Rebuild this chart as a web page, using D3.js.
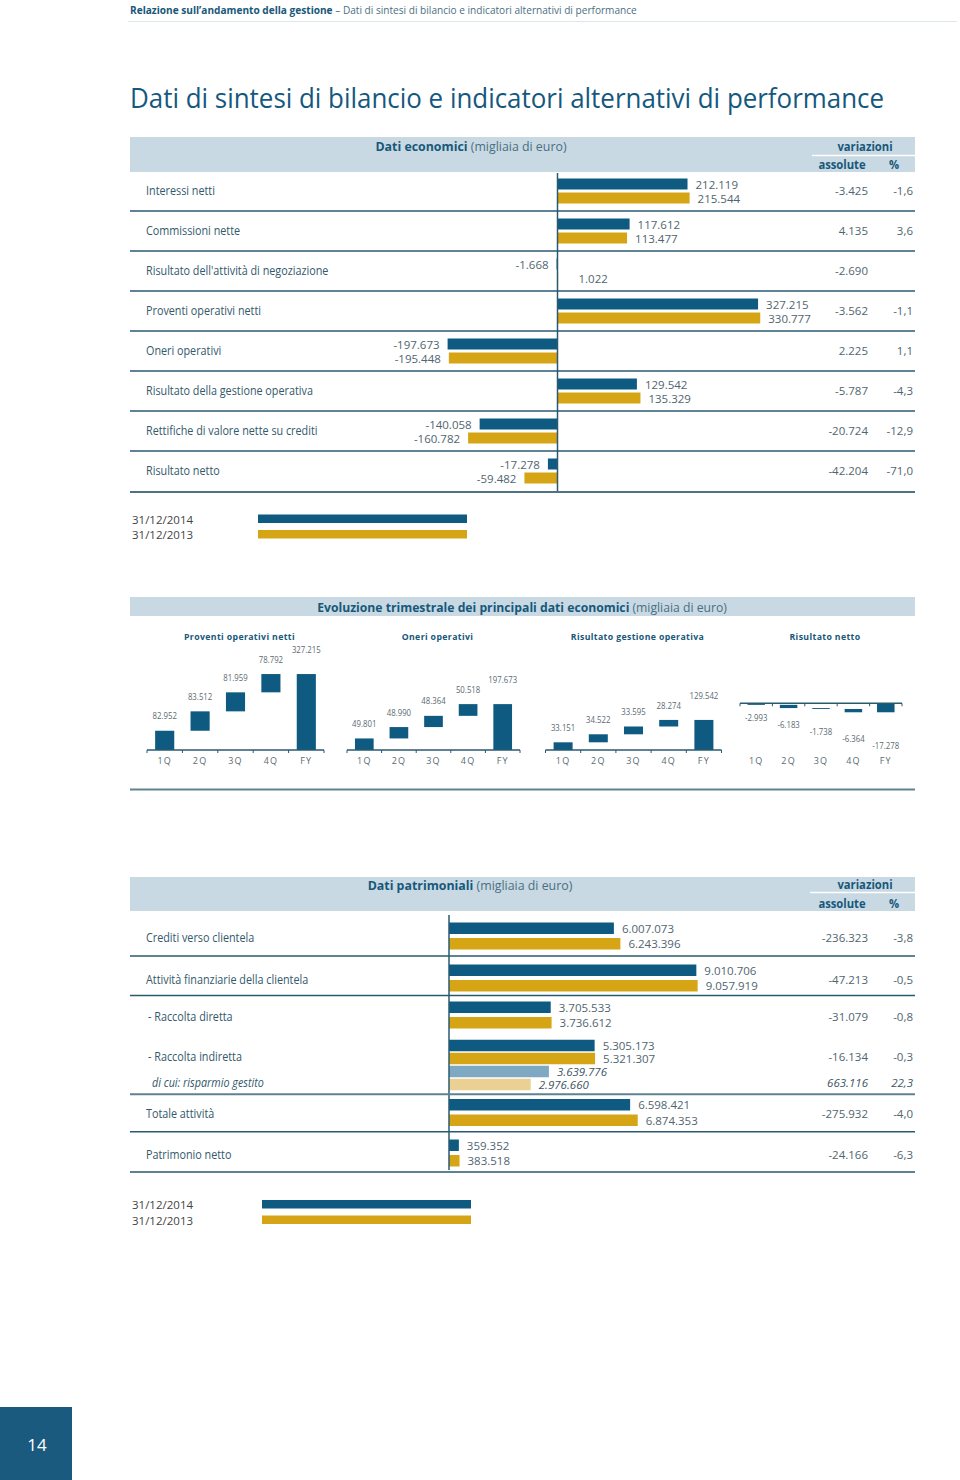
<!DOCTYPE html>
<html><head><meta charset="utf-8">
<script src="https://cdn.jsdelivr.net/npm/d3@7"></script>
<style>
html,body{margin:0;padding:0;background:#fff;}
svg{display:block;font-family:"Open Sans","Noto Sans","DejaVu Sans",sans-serif;}
</style></head><body>
<svg id="c" width="960" height="1480"></svg>
<script>
// ---------- DATA ----------
const ecoLabels = ["Interessi netti","Commissioni nette","Risultato dell'attività di negoziazione","Proventi operativi netti","Oneri operativi","Risultato della gestione operativa","Rettifiche di valore nette su crediti","Risultato netto"];
const eco2014 = [212119, 117612, -1668, 327215, -197673, 129542, -140058, -17278];
const eco2013 = [215544, 113477, 1022, 330777, -195448, 135329, -160782, -59482];
const ecoVarAbs = [-3425, 4135, -2690, -3562, 2225, -5787, -20724, -42204];
const ecoVarPct = [-1.6, 3.6, null, -1.1, 1.1, -4.3, -12.9, -71.0];

const quarters = ["1Q","2Q","3Q","4Q","FY"];
const chartTitles = ["Proventi operativi netti","Oneri operativi","Risultato gestione operativa","Risultato netto"];
const qProventi = [82952, 83512, 81959, 78792];
const qOneri = [49801, 48990, 48364, 50518];
const qGestione = [33151, 34522, 33595, 28274];
const qNetto = [-2993, -6183, -1738, -6364];
const fyValues = [327215, 197673, 129542, -17278];

const patLabels = ["Crediti verso clientela","Attività finanziarie della clientela","- Raccolta diretta","- Raccolta indiretta","di cui: risparmio gestito","Totale attività","Patrimonio netto"];
const pat2014 = [6007073, 9010706, 3705533, 5305173, 3639776, 6598421, 359352];
const pat2013 = [6243396, 9057919, 3736612, 5321307, 2976660, 6874353, 383518];
const patVarAbs = [-236323, -47213, -31079, -16134, 663116, -275932, -24166];
const patVarPct = [-3.8, -0.5, -0.8, -0.3, 22.3, -4.0, -6.3];

const legendLabels = ["31/12/2014","31/12/2013"];

// ---------- STYLE ----------
const C = {blue:"#0f5a80", gold:"#d5a515", lblue:"#7fa9c2", lgold:"#ead092", band:"#c8d9e3",
  line:"#2a5a70", lineGrey:"#6e8c9a", label:"#33596b", num:"#50656f", head:"#17587a"};
const it = d3.formatLocale({decimal:",", thousands:".", grouping:[3], currency:["€",""], minus:"-"});
const fInt = it.format(",d");
const fPct = it.format(",.1f");
const svg = d3.select("#c");
const LSX = 0.9; // horizontal text compression for row labels

function T(parent, x, y, parts, o = {}) {
  const t = parent.append("text")
    .attr("transform", `translate(${x},${y}) scale(${o.sx ?? 1},1)`)
    .attr("text-anchor", o.anchor || "start")
    .attr("dominant-baseline", "central")
    .style("font-size", (o.size || 12) + "px")
    .style("fill", o.fill || C.label)
    .style("font-weight", o.weight || 400)
    .style("letter-spacing", (o.ls || 0) + "px");
  if (o.italic) t.style("font-style", "italic");
  if (typeof parts === "string") t.text(parts);
  else parts.forEach(p => t.append("tspan").text(p.t).style("font-weight", p.w || 400).style("fill", p.f || null));
  return t;
}
function hline(x1, x2, y, col, w) {
  svg.append("line").attr("x1", x1).attr("x2", x2).attr("y1", y).attr("y2", y).attr("stroke", col).attr("stroke-width", w);
}

// ---------- PAGE HEADER ----------
T(svg, 130, 10, [{t:"Relazione sull’andamento della gestione", w:700, f:C.head},{t:" – Dati di sintesi di bilancio e indicatori alternativi di performance", f:"#4a6f82"}], {size:11, sx:0.92});
hline(128, 957, 21.5, "#dde6eb", 1);
T(svg, 130, 98, "Dati di sintesi di bilancio e indicatori alternativi di performance", {size:27, sx:0.96, fill:"#14587e"});

// ---------- TOP TABLE ----------
const gTop = svg.append("g");
gTop.append("rect").attr("x",130).attr("y",137).attr("width",785).attr("height",35).attr("fill",C.band);
T(gTop, 471, 146, [{t:"Dati economici", w:700, f:C.head},{t:" (migliaia di euro)", f:"#4a6f82"}], {size:12.5, sx:0.99, anchor:"middle"});
T(gTop, 865, 146, "variazioni", {size:12.5, sx:0.9, anchor:"middle", weight:700, fill:C.head});
hline(812, 915, 155.5, "#fff", 1.5);
T(gTop, 842, 164, "assolute", {size:12.5, sx:0.9, anchor:"middle", weight:700, fill:C.head});
T(gTop, 894, 164, "%", {size:12.5, sx:0.9, anchor:"middle", weight:700, fill:C.head});

const xEco = d3.scaleLinear().domain([-200000, 0, 340000]).range([446.3, 557.5, 765.9]);
const yEco = d3.scaleBand().domain(ecoLabels).range([171, 491]);
const barH = 11;
ecoLabels.forEach((lab, i) => {
  const c = yEco(lab) + yEco.bandwidth() / 2;
  T(gTop, 146, c - 1, lab, {size:12, sx:LSX});
  [[eco2014[i], C.blue, c - 12.5], [eco2013[i], C.gold, c + 1.5]].forEach(([v, col, y]) => {
    gTop.append("rect").attr("x", Math.min(xEco(0), xEco(v))).attr("y", y)
      .attr("width", Math.abs(xEco(v) - xEco(0))).attr("height", barH).attr("fill", col);
    const ly = y + barH / 2;
    if (v >= 0) T(gTop, Math.max(xEco(v) + 8, xEco(0) + 21), ly, fInt(v), {size:11.5, fill:C.num});
    else T(gTop, xEco(v) - 8, ly, fInt(v), {size:11.5, fill:C.num, anchor:"end"});
  });
  T(gTop, 868, c - 1, fInt(ecoVarAbs[i]), {size:11.5, fill:C.num, anchor:"end"});
  if (ecoVarPct[i] !== null) T(gTop, 913, c - 1, fPct(ecoVarPct[i]), {size:11.5, fill:C.num, anchor:"end"});
  const last = i === ecoLabels.length - 1;
  hline(130, 915, yEco(lab) + yEco.step() + (last ? 1 : 0), last ? "#4f7384" : C.line, last ? 2 : 1.4);
});
gTop.append("line").attr("x1", xEco(0)).attr("x2", xEco(0)).attr("y1", 173).attr("y2", 491).attr("stroke", C.line).attr("stroke-width", 1.5);

function legend(x0, y0) {
  const lx = d3.scaleLinear().domain([0, 1]).range([x0, x0 + 209]);
  [C.blue, C.gold].forEach((col, k) => {
    T(svg, 132, y0 + k * 15.5, legendLabels[k], {size:11.5, fill:"#444"});
    svg.append("rect").attr("x", lx(0)).attr("y", y0 + k * 15.5 - 4.5).attr("width", lx(1) - lx(0)).attr("height", 8.5).attr("fill", col);
  });
}
legend(258, 519);

// ---------- QUARTERLY ----------
const gQ = svg.append("g");
gQ.append("rect").attr("x",130).attr("y",597).attr("width",785).attr("height",19).attr("fill",C.band);
T(gQ, 522, 607, [{t:"Evoluzione trimestrale dei principali dati economici", w:700, f:C.head},{t:" (migliaia di euro)", f:"#4a6f82"}], {size:12.5, sx:0.975, anchor:"middle"});

const yQ = d3.scaleLinear().domain([0, 330000]).range([750, 673.4]);
const yN = d3.scaleLinear().domain([-20000, 0]).range([713.7, 703.3]);
const charts = [
  {q:qProventi, range:[147, 324], y:yQ, base:750},
  {q:qOneri, range:[347, 520], y:yQ, base:750},
  {q:qGestione, range:[545.5, 721.5], y:yQ, base:750},
  {q:qNetto, range:[740, 902], y:yN, base:703.3}
];
charts.forEach((ch, ci) => {
  const x = d3.scaleBand().domain(quarters).range(ch.range).paddingInner(0.46).paddingOuter(0.23);
  const g = gQ.append("g");
  T(g, (ch.range[0] + ch.range[1]) / 2 + 4, 636, chartTitles[ci], {size:9.5, weight:700, sx:0.92, ls:0.4, anchor:"middle", fill:C.head});
  let cum = 0;
  const segs = ch.q.map((v, i) => { const s = {k:quarters[i], a:cum, b:cum + v, v}; cum += v; return s; });
  segs.push({k:"FY", a:0, b:fyValues[ci], v:fyValues[ci], fy:true});
  segs.forEach((s, i) => {
    const y1 = ch.y(s.a), y2 = ch.y(s.b);
    g.append("rect").attr("x", x(s.k)).attr("width", x.bandwidth())
      .attr("y", Math.min(y1, y2)).attr("height", Math.max(0.8, Math.abs(y1 - y2))).attr("fill", C.blue);
    const cx = x(s.k) + x.bandwidth() / 2;
    let ly;
    if (ci < 3) ly = Math.min(y1, y2) - (s.fy ? 25 : 15);
    else ly = ch.base + 14 + i * 7;
    T(g, cx, ly, fInt(ci === 1 ? Math.abs(s.v) : s.v), {size:8.5, sx:0.92, anchor:"middle", fill:"#5b6a72"});
    T(g, cx, 760, s.k, {size:9, ls:1.2, anchor:"middle", fill:"#5b6a72"});
  });
  hline(ch.range[0], ch.range[1], ch.base, C.line, 1.5);
  d3.range(6).forEach(k => {
    const tx = ch.range[0] + k * x.step();
    g.append("line").attr("x1", tx).attr("x2", tx).attr("y1", ch.base).attr("y2", ch.base + 3).attr("stroke", C.line).attr("stroke-width", 1);
  });
});
hline(130, 915, 789.5, "#5f8292", 2);

// ---------- BOTTOM TABLE ----------
const gB = svg.append("g");
gB.append("rect").attr("x",130).attr("y",877).attr("width",785).attr("height",34).attr("fill",C.band);
T(gB, 470, 885, [{t:"Dati patrimoniali", w:700, f:C.head},{t:" (migliaia di euro)", f:"#4a6f82"}], {size:12.5, sx:0.99, anchor:"middle"});
T(gB, 865, 884, "variazioni", {size:12.5, sx:0.9, anchor:"middle", weight:700, fill:C.head});
hline(810, 915, 892.5, "#fff", 1.5);
T(gB, 842, 903, "assolute", {size:12.5, sx:0.9, anchor:"middle", weight:700, fill:C.head});
T(gB, 894, 903, "%", {size:12.5, sx:0.9, anchor:"middle", weight:700, fill:C.head});

const xPat = d3.scaleLinear().domain([0, 9000000]).range([449, 696.05]);
const yPat = d3.scaleOrdinal().domain(patLabels).range([936, 978, 1015, 1052, 1078, 1112.5, 1153]);
const tight = new Set([3, 4]);
const labX = [146, 146, 148, 148, 152, 146, 146];
patLabels.forEach((lab, i) => {
  const c = yPat(lab);
  const gap = tight.has(i) ? 1.5 : 4, h = 11.5;
  const ital = i === 4;
  const ly = c + (tight.has(i) ? 4 : 1);
  T(gB, labX[i], ly, lab, {size:12, sx:LSX, italic:ital});
  [[pat2014[i], ital ? C.lblue : C.blue, c - gap / 2 - h], [pat2013[i], ital ? C.lgold : C.gold, c + gap / 2]].forEach(([v, col, y]) => {
    gB.append("rect").attr("x", xPat(0)).attr("y", y).attr("width", xPat(v) - xPat(0)).attr("height", h).attr("fill", col);
    T(gB, xPat(v) + 8, y + h / 2, fInt(v), {size:11.5, fill: ital ? "#3c5663" : C.num, italic:ital});
  });
  T(gB, 868, ly, fInt(patVarAbs[i]), {size:11.5, fill: ital ? "#3c5663" : C.num, anchor:"end", italic:ital});
  T(gB, 913, ly, fPct(patVarPct[i]), {size:11.5, fill: ital ? "#3c5663" : C.num, anchor:"end", italic:ital});
});
[[0, C.line, 1.4], [1, C.line, 1.4], [4, "#5f8292", 2.2], [5, C.line, 1.4]].forEach(([i, col, w]) => {
  hline(130, 915, (yPat(patLabels[i]) + yPat(patLabels[i + 1])) / 2 - 1, col, w);
});
hline(130, 915, yPat(patLabels[6]) + 19, "#5f8292", 2.2);
gB.append("line").attr("x1", xPat(0)).attr("x2", xPat(0)).attr("y1", 915).attr("y2", 1170).attr("stroke", C.line).attr("stroke-width", 1.5);

legend(262, 1204.5);

// ---------- PAGE NUMBER ----------
svg.append("rect").attr("x",0).attr("y",1407).attr("width",72).attr("height",73).attr("fill","#1a5a7f");
T(svg, 37, 1444, "14", {size:17, fill:"#fff", anchor:"middle"});
</script>
</body></html>
